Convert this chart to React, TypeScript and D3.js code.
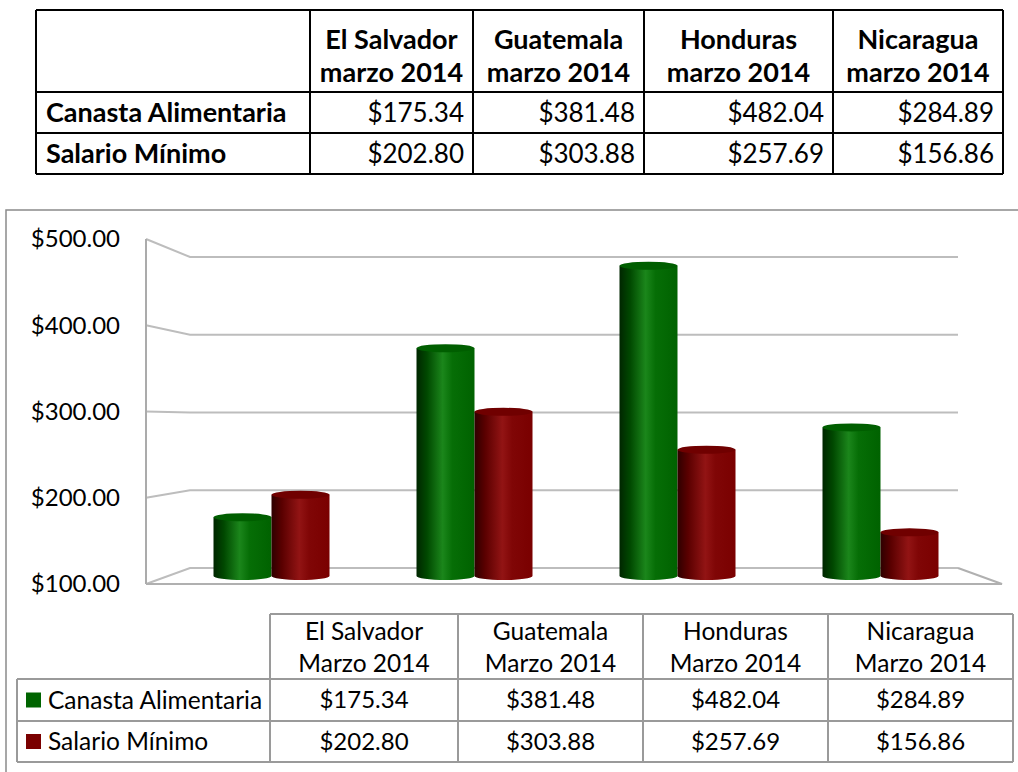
import React from "react";
import * as d3 from "d3";

const categoriesTop = ["El Salvador", "Guatemala", "Honduras", "Nicaragua"];
const periodTop = "marzo 2014";
const periodBottom = "Marzo 2014";
const seriesNames = ["Canasta Alimentaria", "Salario Mínimo"];
const canasta = [175.34, 381.48, 482.04, 284.89];
const salario = [202.8, 303.88, 257.69, 156.86];
const yTicks = [100, 200, 300, 400, 500];
const seriesColors = ["#006400", "#7a0000"];

const FONT = "Lato, 'Open Sans', sans-serif";

const fmt = (v: number) => "$" + d3.format(".2f")(v);

function App() {
  const values = [canasta, salario];

  // top table geometry
  const tCols = [36, 310, 473, 644, 833, 1003];
  const tRows = [10, 92, 133, 174];

  // 3D chart scales
  const yFront = d3.scaleLinear().domain([100, 500]).range([584, 239]);
  const yBack = d3.scaleLinear().domain([100, 500]).range([568, 257]);
  const yMid = d3.scaleLinear().domain([100, 500]).range([576, 248]);
  const xFront0 = 146, xBack0 = 190, xBack1 = 958, xFront1 = 1002;
  const x0 = d3.scaleBand<string>().domain(categoriesTop).range([170, 982]).padding(0);
  const x1 = d3.scaleBand<string>().domain(seriesNames).range([0, 116]).padding(0);
  const ry = 4;

  // bottom table geometry
  const bCols = [17, 270, 458, 643, 828, 1013];
  const bRows = [614, 679, 721, 762];

  const grads = [
    { id: "gGreen", stops: [["0%", "#002600"], ["18%", "#004800"], ["45%", "#1b861b"], ["62%", "#066e06"], ["100%", "#006200"]] },
    { id: "gRed", stops: [["0%", "#2e0000"], ["18%", "#5a0000"], ["48%", "#921414"], ["65%", "#800606"], ["100%", "#7a0000"]] },
  ];
  const capColors = ["#005e00", "#700000"];

  return (
    <svg width={1018} height={772} style={{ position: "absolute", left: 0, top: 0, display: "block", background: "#fff" }} fontFamily={FONT}>
      <defs>
        {grads.map((g) => (
          <linearGradient key={g.id} id={g.id} x1="0" x2="1" y1="0" y2="0">
            {g.stops.map(([o, c]) => (
              <stop key={o} offset={o} stopColor={c} />
            ))}
          </linearGradient>
        ))}
      </defs>

      {/* Top table */}
      <g>
        {tCols.map((x) => (
          <line key={"tc" + x} x1={x} x2={x} y1={tRows[0]} y2={tRows[3]} stroke="#000" strokeWidth={2} />
        ))}
        {tRows.map((y) => (
          <line key={"tr" + y} x1={tCols[0]} x2={tCols[5]} y1={y} y2={y} stroke="#000" strokeWidth={2} />
        ))}
        {categoriesTop.map((c, i) => {
          const cx = (tCols[i + 1] + tCols[i + 2]) / 2;
          return (
            <g key={"th" + c} fontWeight="bold" fontSize={27} textAnchor="middle" fill="#000">
              <text x={cx} y={40} dy="0.35em">{c}</text>
              <text x={cx} y={73} dy="0.35em">{periodTop}</text>
            </g>
          );
        })}
        {seriesNames.map((s, r) => {
          const cy = (tRows[r + 1] + tRows[r + 2]) / 2;
          return (
            <g key={"tr" + s} fill="#000">
              <text x={46} y={cy} dy="0.35em" fontWeight="bold" fontSize={27}>{s}</text>
              {values[r].map((v, i) => (
                <text key={i} x={tCols[i + 2] - 9} y={cy} dy="0.35em" textAnchor="end" fontSize={26}>{fmt(v)}</text>
              ))}
            </g>
          );
        })}
      </g>

      {/* Chart frame */}
      <rect x={6} y={210} width={1030} height={600} fill="#fff" stroke="#8a8a8a" strokeWidth={1.5} />

      {/* Y axis labels */}
      {yTicks.map((t) => (
        <text key={"yl" + t} x={120} y={yFront(t)} dy="0.35em" textAnchor="end" fontSize={24} fill="#000">
          {fmt(t)}
        </text>
      ))}

      {/* Gridlines: side wall + back wall */}
      {yTicks.map((t) => (
        <g key={"g" + t} stroke="#bdbdbd" strokeWidth={2} fill="none">
          <polyline points={`${xFront0},${yFront(t)} ${xBack0},${yBack(t)} ${xBack1},${yBack(t)}`} />
        </g>
      ))}
      {/* vertical axis edge */}
      <line x1={xFront0} x2={xFront0} y1={yFront(500)} y2={yFront(100)} stroke="#ababab" strokeWidth={2} />
      {/* floor edges */}
      <polyline points={`${xBack1},${yBack(100)} ${xFront1},${yFront(100)} ${xFront0},${yFront(100)}`} stroke="#b0b0b0" strokeWidth={2} fill="none" />

      {/* Cylinders */}
      {categoriesTop.map((c) =>
        seriesNames.map((s, si) => {
          const v = values[si][categoriesTop.indexOf(c)];
          const xl = (x0(c) as number) + x0.bandwidth() / 2 - 58 + (x1(s) as number);
          const w = x1.bandwidth();
          const cx = xl + w / 2;
          const yTop = yMid(v) + 3;
          const yBot = yMid(100);
          const d = `M${xl},${yTop} L${xl},${yBot} A${w / 2},${ry} 0 0 0 ${xl + w},${yBot} L${xl + w},${yTop} Z`;
          return (
            <g key={c + s}>
              <path d={d} fill={`url(#${grads[si].id})`} />
              <ellipse cx={cx} cy={yTop} rx={w / 2} ry={ry} fill={capColors[si]} />
            </g>
          );
        })
      )}

      {/* Bottom data table */}
      <g stroke="#9a9a9a" strokeWidth={2}>
        {bCols.map((x, i) => (
          <line key={"bc" + x} x1={x} x2={x} y1={i === 0 ? bRows[1] : bRows[0]} y2={bRows[3]} />
        ))}
        {bRows.map((y, i) => (
          <line key={"br" + y} x1={i === 0 ? bCols[1] : bCols[0]} x2={bCols[5]} y1={y} y2={y} />
        ))}
      </g>
      {categoriesTop.map((c, i) => {
        const cx = (bCols[i + 1] + bCols[i + 2]) / 2;
        return (
          <g key={"bh" + c} fontSize={24.5} textAnchor="middle" fill="#000">
            <text x={cx} y={631} dy="0.35em">{c}</text>
            <text x={cx} y={663} dy="0.35em">{periodBottom}</text>
          </g>
        );
      })}
      {seriesNames.map((s, r) => {
        const cy = (bRows[r + 1] + bRows[r + 2]) / 2;
        return (
          <g key={"bl" + s} fontSize={24.5} fill="#000">
            <rect x={26} y={cy - 7.5} width={15} height={15} fill={seriesColors[r]} />
            <text x={48} y={cy} dy="0.35em">{s}</text>
            {values[r].map((v, i) => (
              <text key={i} x={(bCols[i + 1] + bCols[i + 2]) / 2} y={cy} dy="0.35em" textAnchor="middle" fontSize={24}>{fmt(v)}</text>
            ))}
          </g>
        );
      })}
    </svg>
  );
}

export default App;
